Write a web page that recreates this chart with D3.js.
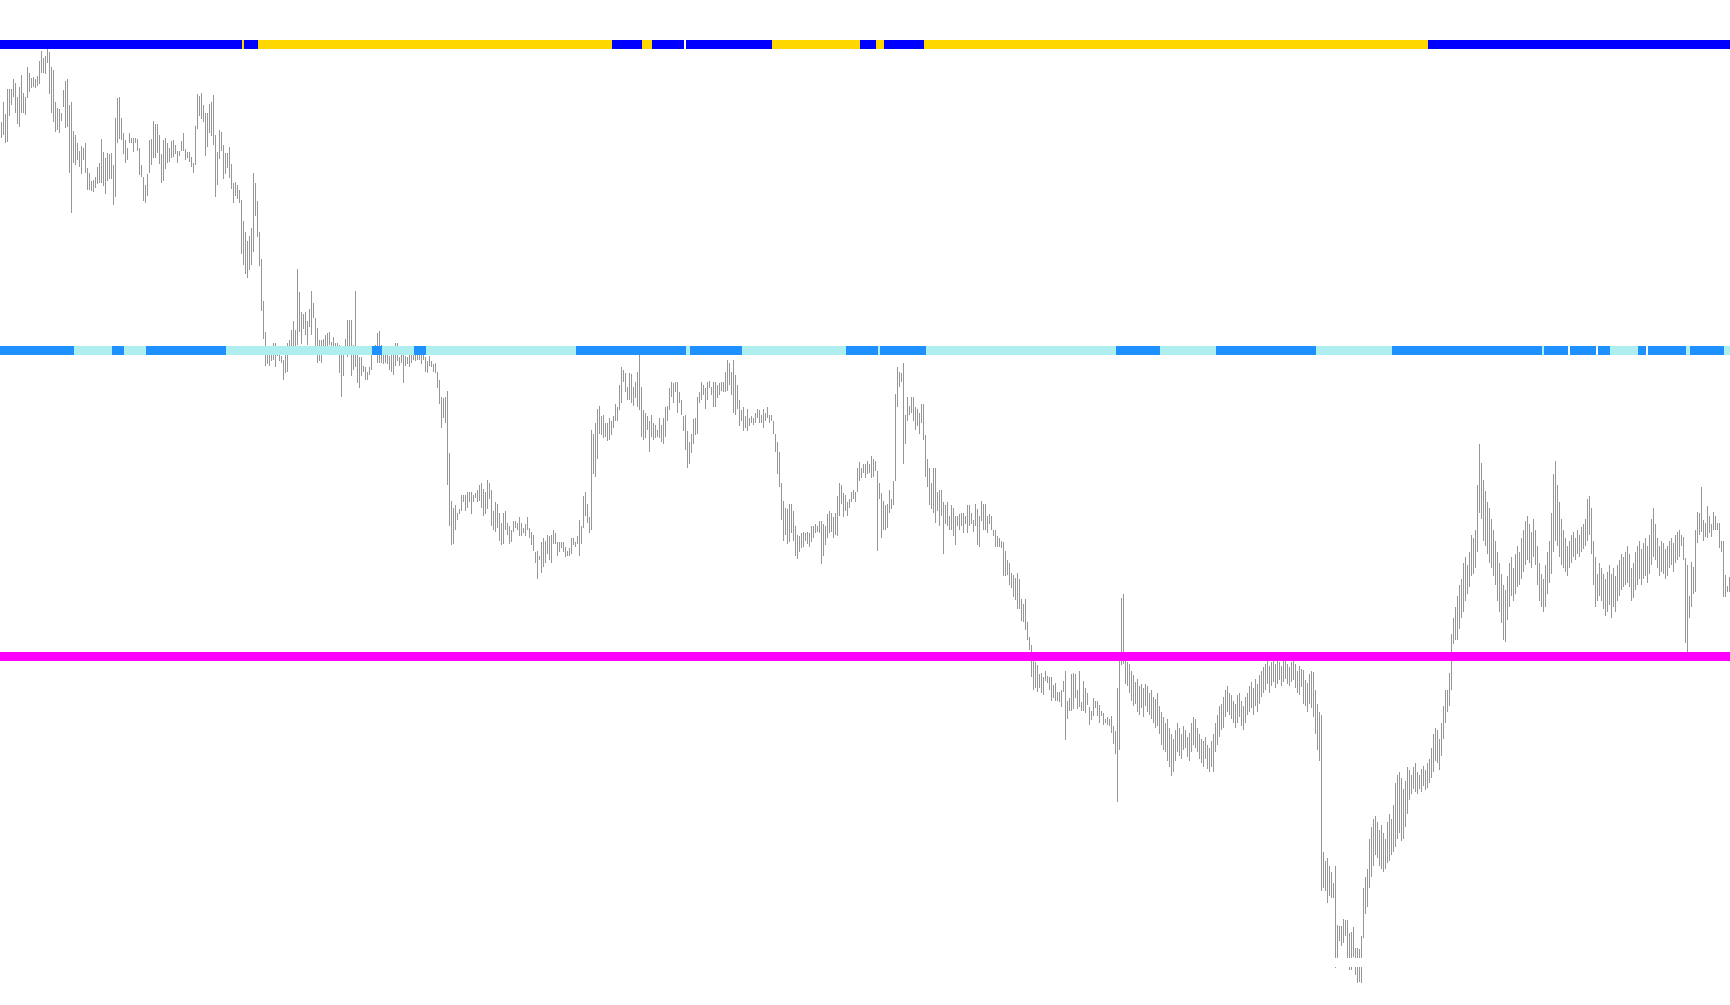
<!DOCTYPE html>
<html>
<head>
<meta charset="utf-8">
<script src="https://cdn.jsdelivr.net/npm/d3@7/dist/d3.min.js"></script>
<style>
  html, body { margin: 0; padding: 0; background: #ffffff; }
  svg { display: block; }
</style>
</head>
<body>
<div id="chart"></div>
<script>
// ---- bar data (high / low per bar) ----
const highs = [
/*0*/ 889,908,897,919,919,919,928,925,912,921,
/*10*/ 932,916,912,939,934,929,930,928,931,945,
/*20*/ 954,947,949,956,953,939,937,908,902,901,
/*30*/ 898,918,927,928,905,908,881,878,870,863,
/*40*/ 868,866,870,848,843,836,837,840,849,852,
/*50*/ 874,862,857,861,860,861,850,893,911,912,
/*60*/ 893,879,873,866,879,875,875,875,874,866,
/*70*/ 850,840,832,842,873,874,890,888,888,878,
/*80*/ 860,873,875,870,866,872,873,869,863,863,
/*90*/ 872,879,865,862,862,858,852,886,915,913,
/*100*/ 916,905,898,898,906,908,914,878,862,882,
/*110*/ 880,869,861,861,867,851,834,835,832,828,
/*120*/ 819,800,790,782,786,793,843,834,818,790,
/*130*/ 765,727,699,679,685,679,689,689,685,679,
/*140*/ 677,674,684,689,692,701,709,701,756,735,
/*150*/ 717,715,717,709,720,736,725,712,703,692,
/*160*/ 692,693,696,698,699,690,695,689,689,687,
/*170*/ 681,685,693,710,710,710,687,736,679,676,
/*180*/ 676,668,667,663,667,679,685,687,698,700,
/*190*/ 687,679,679,684,677,682,681,689,689,676,
/*200*/ 679,682,677,676,679,681,679,685,684,682,
/*210*/ 681,684,676,673,677,673,670,671,663,656,
/*220*/ 640,639,640,646,589,546,540,542,535,539,
/*230*/ 551,551,551,554,554,554,551,553,556,560,
/*240*/ 562,557,554,565,562,556,537,545,543,535,
/*250*/ 526,535,537,526,523,520,528,528,526,531,
/*260*/ 526,521,525,531,521,518,515,500,501,496,
/*270*/ 509,512,510,515,514,515,520,517,509,509,
/*280*/ 509,509,504,501,503,512,512,509,514,529,
/*290*/ 523,550,554,543,531,610,607,617,629,632,
/*300*/ 623,624,617,617,621,618,623,634,631,651,
/*310*/ 667,665,662,649,662,661,649,654,663,680,
/*320*/ 649,628,626,623,618,624,617,615,610,621,
/*330*/ 615,621,631,632,648,654,653,654,654,645,
/*340*/ 637,623,624,609,599,607,620,621,640,645,
/*350*/ 654,651,648,654,655,649,654,654,651,653,
/*360*/ 654,654,663,674,671,663,674,660,651,637,
/*370*/ 628,631,623,629,621,623,621,626,629,628,
/*380*/ 624,629,626,631,624,624,618,607,599,590,
/*390*/ 562,546,540,539,543,543,537,523,515,514,
/*400*/ 517,518,517,518,517,523,523,525,523,528,
/*410*/ 528,525,523,534,537,535,531,535,550,562,
/*420*/ 560,553,551,545,548,554,556,554,576,581,
/*430*/ 576,579,579,582,579,587,584,582,573,562,
/*440*/ 553,546,542,543,556,548,564,643,667,663,
/*450*/ 662,671,624,640,632,640,640,631,629,626,
/*460*/ 634,634,606,584,576,562,576,576,554,556,
/*470*/ 556,545,542,545,532,542,540,532,532,534,
/*480*/ 535,535,532,542,542,535,529,543,539,532,
/*490*/ 546,543,543,532,534,532,520,520,514,512,
/*500*/ 510,509,501,492,490,481,479,476,481,475,
/*510*/ 457,453,457,436,423,415,408,400,397,389,
/*520*/ 390,386,392,387,386,386,379,381,373,373,
/*530*/ 375,383,392,365,367,389,390,389,375,392,
/*540*/ 364,383,376,372,359,356,367,365,365,361,
/*550*/ 356,354,348,350,348,351,342,337,376,407,
/*560*/ 458,462,405,400,398,392,388,382,385,378,
/*570*/ 380,376,380,378,372,375,368,366,372,360,
/*580*/ 355,350,345,348,340,335,330,338,345,340,
/*590*/ 335,342,338,332,336,345,350,348,340,335,
/*600*/ 330,328,332,325,322,328,335,345,352,360,
/*610*/ 362,368,375,378,372,370,365,362,370,372,
/*620*/ 365,360,368,372,378,382,376,385,380,388,
/*630*/ 392,395,398,402,396,400,404,398,402,400,
/*640*/ 396,402,404,398,395,400,403,398,392,396,
/*650*/ 394,393,384,381,389,392,391,375,362,355,
/*660*/ 352,228,220,222,215,210,200,215,162,161,
/*670*/ 161,167,166,166,154,155,160,141,141,140,
/*680*/ 152,195,205,212,240,250,258,260,255,248,
/*690*/ 252,245,240,255,262,258,270,290,298,300,
/*700*/ 295,285,292,305,302,298,305,308,300,298,
/*710*/ 303,306,302,308,312,322,335,340,338,330,
/*720*/ 345,360,375,375,390,425,440,450,460,470,
/*730*/ 475,490,495,488,500,515,512,520,560,598,
/*740*/ 580,565,555,545,540,530,520,510,500,490,
/*750*/ 480,470,465,478,490,495,485,498,505,500,
/*760*/ 512,520,528,532,525,518,530,520,505,490,
/*770*/ 480,475,488,500,510,535,570,582,560,545,
/*780*/ 530,520,512,505,510,515,518,512,520,515,
/*790*/ 522,525,530,548,550,540,510,495,480,490,
/*800*/ 485,480,475,482,488,480,485,478,488,492,
/*810*/ 498,495,500,505,498,485,490,500,505,510,
/*820*/ 502,508,512,505,515,530,540,525,512,505,
/*830*/ 510,508,502,505,510,512,508,515,518,520,
/*840*/ 515,513,494,488,460,491,486,520,536,535,
/*850*/ 559,529,526,541,532,525,536,532,526,526,
/*860*/ 510,510,479,469,477
];
const lows = [
/*0*/ 875,878,870,871,895,905,912,898,888,885,
/*10*/ 898,898,896,911,917,920,921,920,922,924,
/*20*/ 934,934,933,943,915,898,889,880,882,879,
/*30*/ 890,903,884,885,843,807,852,850,855,849,
/*40*/ 842,855,843,828,828,827,826,830,833,834,
/*50*/ 834,831,824,836,838,838,814,821,870,874,
/*60*/ 873,860,852,855,870,870,862,870,863,841,
/*70*/ 840,818,816,822,843,850,857,857,861,851,
/*80*/ 834,836,847,852,853,857,858,860,852,859,
/*90*/ 863,863,855,857,853,849,843,850,883,895,
/*100*/ 892,889,859,867,879,877,869,821,832,856,
/*110*/ 863,838,842,848,839,829,816,822,820,816,
/*120*/ 770,760,752,748,755,760,772,804,785,759,
/*130*/ 718,693,668,670,668,673,674,667,677,673,
/*140*/ 671,656,662,663,684,684,685,684,687,699,
/*150*/ 688,702,696,687,704,696,712,684,671,673,
/*160*/ 671,685,684,685,687,682,682,678,681,662,
/*170*/ 640,659,679,676,678,659,665,667,653,648,
/*180*/ 659,663,656,656,660,665,678,679,671,671,
/*190*/ 671,670,671,670,665,663,660,668,673,668,
/*200*/ 671,653,668,670,667,671,674,673,674,674,
/*210*/ 670,674,663,662,668,667,663,662,648,634,
/*220*/ 612,621,617,560,523,506,507,520,529,534,
/*230*/ 537,545,537,540,545,534,545,549,545,546,
/*240*/ 540,532,534,539,548,523,520,518,521,510,
/*250*/ 506,507,520,515,507,509,518,521,520,514,
/*260*/ 514,517,514,520,512,506,501,490,475,492,
/*270*/ 481,486,490,498,492,490,507,507,496,500,
/*280*/ 503,500,495,496,496,498,506,504,507,496,
/*290*/ 507,521,532,526,517,520,570,568,584,607,
/*300*/ 606,603,604,600,601,606,612,618,618,628,
/*310*/ 635,654,645,637,637,635,632,639,631,628,
/*320*/ 604,601,603,610,590,604,601,603,604,603,
/*330*/ 599,598,604,618,628,640,635,645,626,635,
/*340*/ 624,609,592,576,579,589,598,606,607,635,
/*350*/ 637,642,629,637,648,642,631,631,639,642,
/*360*/ 646,645,645,646,651,642,626,624,629,614,
/*370*/ 618,609,612,609,614,617,615,617,621,617,
/*380*/ 617,612,618,621,617,618,607,590,570,559,
/*390*/ 529,510,515,507,509,517,510,496,493,500,
/*400*/ 503,504,510,507,504,509,512,517,518,517,
/*410*/ 489,496,506,512,517,518,512,515,514,532,
/*420*/ 543,531,537,532,540,545,548,545,554,564,
/*430*/ 567,571,567,570,571,567,568,573,501,548,
/*440*/ 512,520,520,521,535,539,542,564,631,649,
/*450*/ 654,579,598,618,624,626,618,610,614,607,
/*460*/ 617,601,568,559,542,539,535,526,537,523,
/*470*/ 532,498,525,523,520,520,514,506,523,520,
/*480*/ 523,517,525,517,523,525,518,523,506,504,
/*490*/ 528,520,520,517,525,520,514,504,504,504,
/*500*/ 503,478,478,479,470,467,459,456,448,448,
/*510*/ 437,436,429,420,411,386,375,376,373,376,
/*520*/ 372,370,383,381,375,365,367,365,365,364,
/*530*/ 359,373,329,348,356,356,357,367,357,359,
/*540*/ 356,356,354,361,343,347,351,358,351,345,
/*550*/ 351,343,345,343,342,336,326,317,273,320,
/*560*/ 397,398,380,378,372,365,360,362,355,352,
/*570*/ 358,350,360,355,352,348,345,340,342,335,
/*580*/ 325,320,318,310,305,297,300,310,318,315,
/*590*/ 312,320,322,314,310,318,325,322,318,312,
/*600*/ 308,305,312,303,300,305,300,318,325,332,
/*610*/ 338,340,350,355,352,348,345,340,345,350,
/*620*/ 342,338,345,352,355,358,352,360,355,362,
/*630*/ 368,372,375,380,372,378,382,376,380,384,
/*640*/ 378,382,385,380,378,382,384,376,372,370,
/*650*/ 377,362,360,355,362,358,350,335,320,310,
/*660*/ 192,195,192,182,188,186,186,123,130,147,
/*670*/ 143,145,152,131,121,121,133,116,109,110,
/*680*/ 109,150,172,178,195,205,215,225,222,215,
/*690*/ 212,210,212,218,220,225,228,232,240,245,
/*700*/ 238,240,250,262,275,280,285,282,280,285,
/*710*/ 282,288,284,286,290,295,300,310,308,302,
/*720*/ 315,330,345,355,360,375,416,420,420,430,
/*730*/ 440,445,455,462,468,478,480,485,500,535,
/*740*/ 530,510,505,498,490,485,478,470,455,445,
/*750*/ 435,420,418,438,450,460,455,462,468,470,
/*760*/ 475,482,488,492,490,485,495,488,470,455,
/*770*/ 450,445,450,462,472,480,500,510,505,495,
/*780*/ 488,485,482,478,485,490,495,492,498,495,
/*790*/ 500,502,505,510,515,498,470,450,455,460,
/*800*/ 455,448,442,445,452,440,450,445,455,460,
/*810*/ 465,468,470,472,468,455,458,465,470,475,
/*820*/ 470,475,478,472,480,488,495,492,485,478,
/*830*/ 482,480,475,478,485,488,482,490,492,495,
/*840*/ 505,492,417,406,440,450,462,463,508,515,
/*850*/ 518,510,513,512,517,513,520,520,520,503,
/*860*/ 500,459,459,463,463
];

// ---- indicator rows: level and colour runs [firstBar, lastBar, state] ----
const bandLevels = [959.7, 682.3, 405.0, 127.6];
const topRuns = [[0,120,1],[121,121,0],[122,128,1],[129,305,0],[306,320,1],[321,325,0],
  [326,341,1],[343,385,1],[386,429,0],[430,437,1],[438,441,0],[442,461,1],[462,713,0],[714,864,1]];
const midRuns = [[0,36,1],[37,55,0],[56,61,1],[62,72,0],[73,112,1],[113,185,0],[186,190,1],
  [191,206,0],[207,212,1],[213,287,0],[288,342,1],[343,344,0],[345,370,1],[371,422,0],
  [423,438,1],[439,439,0],[440,462,1],[463,557,0],[558,579,1],[580,607,0],[608,657,1],
  [658,695,0],[696,770,1],[771,771,0],[772,783,1],[785,797,1],[799,804,1],[805,818,0],
  [819,822,1],[824,842,1],[843,844,0],[845,861,1],[862,864,0]];
const lowRuns = [[0,864,1]];
const baseRuns = [[0,864,1]];
const topColors = {1: "#0000ff", 0: "#ffd700"};
const midColors = {1: "#1e90ff", 0: "#afeeee"};
const lowColors = {1: "#ff00ff"};
const baseColors = {1: "#ffffff"};

const W = 1730, H = 1005;
const n = highs.length;
const bars = d3.range(n).map(i => ({i, high: highs[i], low: lows[i]}));

const x = d3.scaleBand().domain(d3.range(n)).range([0, 2 * n]).padding(0);
const y = d3.scaleLinear().domain([89.1, 1000]).range([H, 0]);
const bw = x.bandwidth();

const svg = d3.select("#chart").append("svg")
  .attr("width", W).attr("height", H)
  .attr("shape-rendering", "crispEdges");
svg.append("rect").attr("width", W).attr("height", H).attr("fill", "#ffffff");

svg.append("g").selectAll("rect").data(bars).join("rect")
  .attr("x", d => x(d.i) + bw / 2)
  .attr("width", 1)
  .attr("y", d => y(d.high))
  .attr("height", d => Math.max(1, y(d.low) - y(d.high)))
  .attr("fill", "#00ff00");

const bandSpecs = [
  {level: bandLevels[0], runs: topRuns, colors: topColors},
  {level: bandLevels[1], runs: midRuns, colors: midColors},
  {level: bandLevels[2], runs: lowRuns, colors: lowColors},
  {level: bandLevels[3], runs: baseRuns, colors: baseColors}
];
const bandH = 9;
bandSpecs.forEach(b => {
  svg.append("g").selectAll("rect").data(b.runs).join("rect")
    .attr("x", r => x(r[0]))
    .attr("width", r => x(r[1]) + bw - x(r[0]))
    .attr("y", y(b.level) - bandH / 2)
    .attr("height", bandH)
    .attr("fill", r => b.colors[r[2]]);
});
</script>
</body>
</html>
